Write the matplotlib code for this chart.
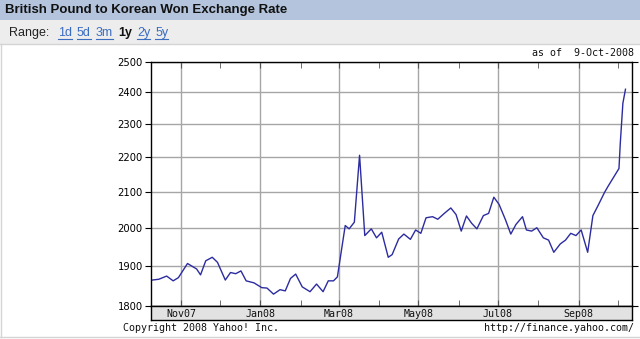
import matplotlib
matplotlib.use('Agg')
import matplotlib.pyplot as plt
import matplotlib.dates as mdates
import matplotlib.ticker as mticker
from matplotlib.patches import Rectangle
from matplotlib.lines import Line2D
import pandas as pd

W, H = 640, 339

# GBP -> KRW (roughly every 4-5 days)
dates = ['2007-10-10', '2007-10-15', '2007-10-21', '2007-10-26', '2007-10-30',
         '2007-11-06', '2007-11-13', '2007-11-16', '2007-11-20', '2007-11-25',
         '2007-11-29', '2007-12-05', '2007-12-09', '2007-12-13', '2007-12-17',
         '2007-12-21', '2007-12-27', '2008-01-02', '2008-01-06', '2008-01-11',
         '2008-01-16', '2008-01-20', '2008-01-24', '2008-01-28', '2008-02-02',
         '2008-02-08', '2008-02-13', '2008-02-18', '2008-02-22', '2008-02-26',
         '2008-02-29', '2008-03-06', '2008-03-09', '2008-03-13', '2008-03-17',
         '2008-03-21', '2008-03-26', '2008-03-30', '2008-04-03', '2008-04-08',
         '2008-04-11', '2008-04-16', '2008-04-20', '2008-04-25', '2008-04-29',
         '2008-05-03', '2008-05-07', '2008-05-12', '2008-05-16', '2008-05-21',
         '2008-05-26', '2008-05-30', '2008-06-03', '2008-06-07', '2008-06-11',
         '2008-06-15', '2008-06-20', '2008-06-24', '2008-06-28', '2008-07-02',
         '2008-07-07', '2008-07-11', '2008-07-15', '2008-07-20', '2008-07-23',
         '2008-07-27', '2008-07-31', '2008-08-05', '2008-08-09', '2008-08-13',
         '2008-08-18', '2008-08-22', '2008-08-26', '2008-08-30', '2008-09-03',
         '2008-09-08', '2008-09-12', '2008-09-16', '2008-09-21', '2008-09-24',
         '2008-10-02', '2008-10-03', '2008-10-05', '2008-10-07']
rates = [1864, 1866, 1874, 1862, 1870,
         1906, 1892, 1877, 1913, 1922,
         1909, 1864, 1883, 1880, 1887,
         1862, 1857, 1845, 1844, 1829,
         1840, 1837, 1868, 1879, 1847,
         1835, 1854, 1835, 1862, 1862,
         1872, 2006, 1997, 2015, 2205,
         1979, 1997, 1973, 1988, 1922,
         1929, 1970, 1983, 1969, 1994,
         1985, 2027, 2030, 2023, 2039,
         2054, 2036, 1991, 2032, 2012,
         1997, 2033, 2039, 2084, 2064,
         2021, 1983, 2009, 2030, 1994,
         1991, 2000, 1973, 1967, 1935,
         1957, 1967, 1985, 1979, 1994,
         1935, 2033, 2061, 2098, 2117,
         2166, 2240, 2365, 2410]

y_ticks = [1800, 1900, 2000, 2100, 2200, 2300, 2400, 2500]
month_labels = ['Nov07', 'Jan08', 'Mar08', 'May08', 'Jul08', 'Sep08']
month_dates = ['2007-11-01', '2008-01-01', '2008-03-01', '2008-05-01', '2008-07-01', '2008-09-01']
ranges = ['1d', '5d', '3m', '1y', '2y', '5y']

def fx(px):
    return px / W

def fy(py):
    return 1 - py / H

fig = plt.figure(figsize=(6.4, 3.39), dpi=100)
fig.patch.set_facecolor('white')

# header strips
fig.patches.append(Rectangle((0, fy(20)), 1, 20 / H, transform=fig.transFigure,
                             facecolor='#b3c4dc', edgecolor='none'))
fig.patches.append(Rectangle((0, fy(44)), 1, 24 / H, transform=fig.transFigure,
                             facecolor='#ededed', edgecolor='none'))
fig.lines.append(Line2D([0, 1], [fy(44), fy(44)], transform=fig.transFigure, color='#d4d4d4', lw=1))
fig.lines.append(Line2D([0, 1], [fy(337), fy(337)], transform=fig.transFigure, color='#d4d4d4', lw=1))
fig.lines.append(Line2D([fx(0.5), fx(0.5)], [fy(44), fy(337)], transform=fig.transFigure, color='#d4d4d4', lw=1))

fig.text(fx(5), fy(10), 'British Pound to Korean Won Exchange Rate', fontsize=9.5,
         weight='bold', family='Liberation Sans', va='center', color='#111111')
fig.text(fx(9), fy(33), 'Range:', fontsize=9, family='Liberation Sans', va='center', color='#222222')

# range links, underlined except the current one
fig.canvas.draw()
renderer = fig.canvas.get_renderer()
x = 58
for r in ranges:
    cur = r == '1y'
    t = fig.text(fx(x), fy(33), r, fontsize=9, family='Liberation Sans', va='center',
                 weight='bold' if cur else 'normal', color='#111111' if cur else '#3a6cc0')
    bb = t.get_window_extent(renderer)
    if not cur:
        fig.lines.append(Line2D([fx(bb.x0), fx(bb.x1)], [fy(39), fy(39)],
                                transform=fig.transFigure, color='#3a6cc0', lw=0.8))
    x = bb.x1 + 5

# main plot
ax = fig.add_axes([fx(151), fy(306), fx(632) - fx(151), (306 - 62) / H])
ax.plot(pd.to_datetime(dates), rates, color='#2c2ca0', lw=1)
ax.set_yscale('log')
ax.set_ylim(1800, 2500)
ax.yaxis.set_major_locator(mticker.FixedLocator(y_ticks))
ax.yaxis.set_minor_locator(mticker.NullLocator())
ax.yaxis.set_major_formatter(mticker.FixedFormatter([str(v) for v in y_ticks]))
ax.set_xlim(pd.Timestamp('2007-10-09'), pd.Timestamp('2008-10-12'))
ax.xaxis.set_major_locator(mdates.MonthLocator(bymonth=[1, 3, 5, 7, 9, 11]))
ax.xaxis.set_minor_locator(mdates.MonthLocator(bymonth=[2, 4, 6, 8, 10, 12]))
ax.grid(True, which='major', color='#a6a6a6', lw=1)
ax.tick_params(axis='x', which='both', direction='in', length=4, top=True,
               labelbottom=False, color='#555555')
ax.tick_params(axis='y', which='major', direction='out', length=4, left=True, right=True,
               labelsize=7.2, pad=2, color='black')
for lab in ax.get_yticklabels():
    lab.set_family('DejaVu Sans')
for s in ax.spines.values():
    s.set_color('black')
    s.set_linewidth(1)

# month band under the plot
bax = fig.add_axes([fx(151), fy(320), fx(632) - fx(151), 14 / H], sharex=ax)
bax.set_facecolor('#e2e2e2')
bax.set_yticks([])
bax.tick_params(axis='x', which='both', length=0, labelbottom=False)
for lab, d in zip(month_labels, month_dates):
    bax.text(pd.Timestamp(d), 0.45, lab, transform=bax.get_xaxis_transform(),
             ha='center', va='center', fontsize=7.2, family='DejaVu Sans Mono', color='#111111')
for s in bax.spines.values():
    s.set_color('black')
    s.set_linewidth(1)

mono = dict(fontsize=7.2, family='DejaVu Sans Mono', color='#111111', va='center')
fig.text(fx(634), fy(53), 'as of  9-Oct-2008', ha='right', **mono)
fig.text(fx(123), fy(328), 'Copyright 2008 Yahoo! Inc.', ha='left', **mono)
fig.text(fx(634), fy(328), 'http://finance.yahoo.com/', ha='right', **mono)

fig.savefig('out.png', dpi=100)
